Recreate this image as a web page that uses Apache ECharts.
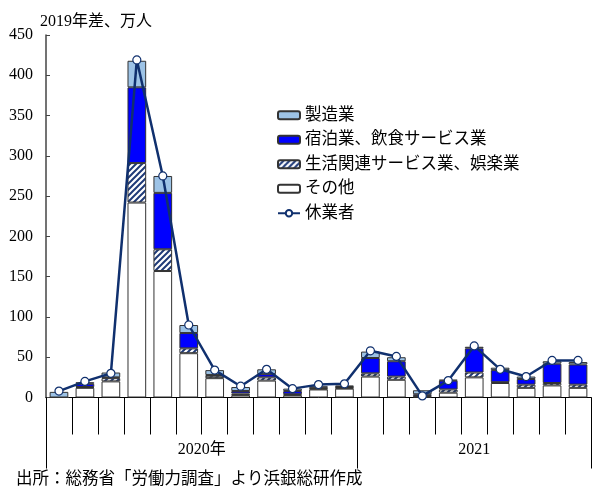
<!DOCTYPE html>
<html>
<head>
<meta charset="utf-8">
<script src="https://cdn.jsdelivr.net/npm/echarts@6/dist/echarts.min.js"></script>
<style>
  html, body { margin: 0; padding: 0; background: #fff; }
  #chart { width: 592px; height: 486px; }
</style>
</head>
<body>
<div id="chart"></div>
<script>
// Monthly change vs. 2019 (10k persons), Jan 2020 – Sep 2021
const months = ['1', '2', '3', '4', '5', '6', '7', '8', '9', '10', '11', '12',
                '1', '2', '3', '4', '5', '6', '7', '8', '9'];
const years = ['2020年', '2021'];
const monthsPerYear = [12, 9];

const manufacturing = [7, 2, 6, 33, 21, 10, 6, 5, 6, 3, 2, 2, 8, 5, 5, 1, 2, 3, 3, 3, 3];
const lodgingFood   = [0, 4, 1, 94, 70, 19, 1, 3, 4, 4, 1, 1, 19, 19, 2, 11, 30, 15, 7, 24, 25];
const livingLeisure = [0, 1, 4, 49, 27, 6, 3, 2, 4, 1, 1, 1, 4, 4, 1, 4, 6, 1, 4, 3, 4];
const others        = [0, 12, 20, 242, 157, 55, 24, 3, 21, 3, 10, 11, 26, 22, 1, 6, 25, 18, 12, 15, 12];
const absentees     = [8, 20, 30, 419, 275, 90, 34, 14, 35, 11, 16, 17, 58, 51, 2, 21, 64, 35, 26, 46, 46];

const names = ['製造業', '宿泊業、飲食サービス業', '生活関連サービス業、娯楽業', 'その他', '休業者'];

// month and year boundaries on a continuous month scale
const monthEdges = months.map((_, i) => i).concat([months.length]);
const boundaries = [0];
monthsPerYear.forEach(n => boundaries.push(boundaries[boundaries.length - 1] + n));
const yearCenters = years.map((_, i) => (boundaries[i] + boundaries[i + 1]) / 2);

// diagonal stripe fill
function stripes() {
  const c = document.createElement('canvas');
  c.width = 6; c.height = 6;
  const g = c.getContext('2d');
  g.fillStyle = '#fff';
  g.fillRect(0, 0, 6, 6);
  g.strokeStyle = '#1f3a78';
  g.lineWidth = 2;
  g.beginPath();
  g.moveTo(-1, 7); g.lineTo(7, -1);
  g.moveTo(-4, 4); g.lineTo(4, -4);
  g.moveTo(2, 10); g.lineTo(10, 2);
  g.stroke();
  return c;
}

const FONT = '"Liberation Serif", "Noto Sans CJK JP", serif';
const TEXT = { fontFamily: FONT, fontSize: 16, fontWeight: 'normal', color: '#000' };
const border = { borderColor: '#333', borderWidth: 1 };

const chart = echarts.init(document.getElementById('chart'), null, { renderer: 'canvas' });

function barSeries(name, data, color) {
  return {
    name, type: 'bar', stack: 'total', data,
    barWidth: '72%',
    itemStyle: Object.assign({ color }, border),
    emphasis: { disabled: true }
  };
}

// helper value axis sharing the bottom edge, used for tick marks only
function edgeAxis(ticks, len, labels) {
  return {
    type: 'value', min: 0, max: months.length, position: 'bottom',
    axisLine: { show: false },
    splitLine: { show: false },
    axisTick: { show: true, customValues: ticks, length: len,
                lineStyle: { color: '#000', width: 1 } },
    axisLabel: labels || { show: false }
  };
}

chart.setOption({
  animation: false,
  textStyle: { fontFamily: FONT, color: '#000' },
  title: [
    { text: '2019年差、万人', left: 35, top: 9, textStyle: TEXT },
    { text: '出所：総務省「労働力調査」より浜銀総研作成', left: 11, top: 466,
      textStyle: Object.assign({}, TEXT, { fontSize: 16.5 }) }
  ],
  legend: {
    orient: 'vertical', left: 272, top: 102,
    itemWidth: 22, itemHeight: 8, itemGap: 8,
    data: names,
    textStyle: { fontFamily: FONT, fontSize: 16.5, lineHeight: 16, color: '#000' }
  },
  grid: { left: 46, right: 1, top: 35, bottom: 88.5, containLabel: false },
  xAxis: [
    {
      type: 'category', data: months, position: 'bottom',
      axisLine: { lineStyle: { color: '#000', width: 1 } },
      axisTick: { show: false },
      axisLabel: { show: false }
    },
    edgeAxis(monthEdges, 37),
    edgeAxis(boundaries, 71, {
      customValues: yearCenters, margin: 44,
      fontFamily: FONT, fontSize: 16, color: '#000',
      formatter: v => years[yearCenters.indexOf(v)]
    })
  ],
  yAxis: {
    type: 'value', min: 0, max: 450, interval: 50,
    axisLine: { show: true, lineStyle: { color: '#444', width: 1.5 } },
    axisTick: { show: true, inside: true, length: 4, lineStyle: { color: '#444' } },
    splitLine: { show: false },
    axisLabel: { margin: 13, fontFamily: FONT, fontSize: 16, color: '#000' }
  },
  series: [
    barSeries(names[3], others, '#ffffff'),
    barSeries(names[2], livingLeisure, { image: stripes(), repeat: 'repeat' }),
    barSeries(names[1], lodgingFood, '#0000ff'),
    barSeries(names[0], manufacturing, '#9dc3e6'),
    {
      name: names[4], type: 'line', data: absentees,
      symbol: 'circle', symbolSize: 8,
      lineStyle: { color: '#10306e', width: 2.5 },
      itemStyle: { color: '#ffffff', borderColor: '#10306e', borderWidth: 1.2 },
      emphasis: { disabled: true },
      z: 5
    }
  ]
});
</script>
</body>
</html>
